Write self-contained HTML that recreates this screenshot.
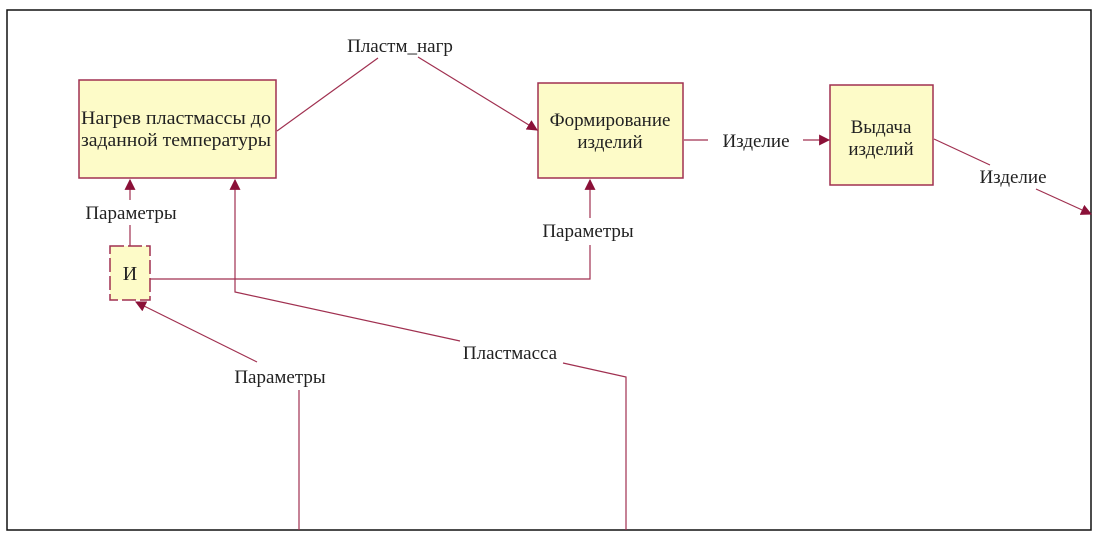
<!DOCTYPE html>
<html><head><meta charset="utf-8"><style>
html,body{margin:0;padding:0;background:#fff;}
svg{display:block;}
text{font-family:"Liberation Serif","DejaVu Serif",serif;fill:#222;}
</style></head><body>
<svg width="1100" height="539" viewBox="0 0 1100 539" xmlns="http://www.w3.org/2000/svg">
<defs>
<marker id="a" viewBox="0 0 10 10" refX="9" refY="5" markerWidth="11" markerHeight="11" markerUnits="userSpaceOnUse" orient="auto">
<path d="M0,0 L10,5 L0,10 z" fill="#8b1038"/></marker>
</defs>
<rect x="7" y="10" width="1084" height="520" fill="none" stroke="#111" stroke-width="1.5"/>
<g fill="#fdfbc8" stroke="#a03050" stroke-width="1.5">
<rect x="79" y="80" width="197" height="98"/>
<rect x="538" y="83" width="145" height="95"/>
<rect x="830" y="85" width="103" height="100"/>
<rect x="110" y="246" width="40" height="54" stroke-dasharray="14,4"/>
</g>
<g font-size="19" text-anchor="middle">
<text x="176" y="124" textLength="190" lengthAdjust="spacingAndGlyphs">Нагрев пластмассы до</text>
<text x="176" y="146" textLength="190" lengthAdjust="spacingAndGlyphs">заданной температуры</text>
<text x="610" y="126">Формирование</text>
<text x="610" y="148">изделий</text>
<text x="881" y="133">Выдача</text>
<text x="881" y="155">изделий</text>
<text x="130" y="280" font-size="20">И</text>
<text x="400" y="52">Пластм_нагр</text>
<text x="756" y="147">Изделие</text>
<text x="1013" y="183">Изделие</text>
<text x="131" y="219">Параметры</text>
<text x="588" y="237">Параметры</text>
<text x="280" y="383">Параметры</text>
<text x="510" y="359">Пластмасса</text>
</g>
<g fill="none" stroke="#a03050" stroke-width="1.2">
<path d="M277,131 L378,58"/>
<path d="M418,57 L537,130" marker-end="url(#a)"/>
<path d="M684,140 L708,140"/>
<path d="M803,140 L829,140" marker-end="url(#a)"/>
<path d="M934,139 L990,165"/>
<path d="M1036,189 L1091,214" marker-end="url(#a)"/>
<path d="M130,246 L130,225"/>
<path d="M130,200 L130,180" marker-end="url(#a)"/>
<path d="M150,279 L590,279 L590,245"/>
<path d="M590,218 L590,180" marker-end="url(#a)"/>
<path d="M460,341 L235,292 L235,180" marker-end="url(#a)"/>
<path d="M563,363 L626,377 L626,530"/>
<path d="M299,530 L299,390"/>
<path d="M257,362 L136,302" marker-end="url(#a)"/>
</g>
</svg>
</body></html>
